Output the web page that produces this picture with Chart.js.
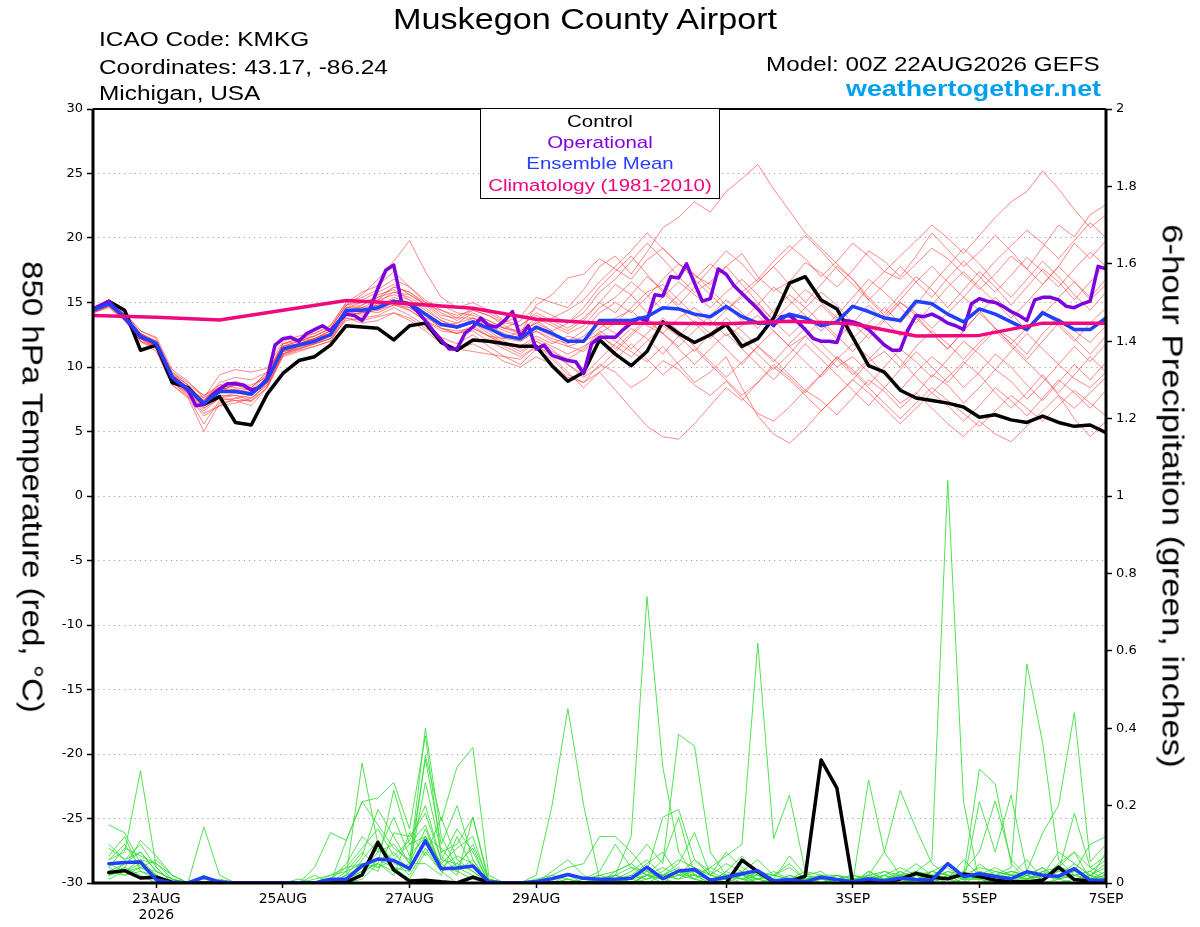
<!DOCTYPE html>
<html>
<head>
<meta charset="utf-8">
<title>Muskegon County Airport - GEFS 850 hPa temperature and precipitation</title>
<script src="https://cdn.jsdelivr.net/npm/chart.js@4.4.1/dist/chart.umd.min.js"></script>
<style>
  html, body { margin: 0; padding: 0; background: #fff; }
  #wrap { position: relative; width: 1200px; height: 927px; overflow: hidden; background: #fff; }
  #chart { position: absolute; left: 0; top: 0; }
  .txt { position: absolute; white-space: nowrap; font-family: "Liberation Sans", Arial, Helvetica, sans-serif; line-height: 1; color: #000; }
  .info { left: 99px; font-size: 20px; transform: scaleX(1.22); transform-origin: 0 50%; }
  .leg { left: 480px; width: 240px; text-align: center; font-size: 17px; transform: scaleX(1.2); transform-origin: 50% 50%; }
  #legbox { position: absolute; left: 480px; top: 108px; width: 240px; height: 91px; box-sizing: border-box; border: 1.5px solid #000; background: #fff; }
</style>
</head>
<body>
<div id="wrap">
  <canvas id="chart" width="1200" height="927"></canvas>

  <div class="txt" style="left:335px; width:500px; top:5px; text-align:center; font-size:29px; transform:scaleX(1.18);">Muskegon County Airport</div>
  <div class="txt info" style="top:29px;">ICAO Code: KMKG</div>
  <div class="txt info" style="top:56.5px;">Coordinates: 43.17, -86.24</div>
  <div class="txt info" style="top:83px;">Michigan, USA</div>
  <div class="txt" style="right:100px; top:54px; font-size:20px; transform:scaleX(1.21); transform-origin:100% 50%;">Model: 00Z 22AUG2026 GEFS</div>
  <div class="txt" style="right:99px; top:77.5px; font-size:22px; font-weight:bold; color:#00a0f0; transform:scaleX(1.22); transform-origin:100% 50%;">weathertogether.net</div>

  <div id="legbox"></div>
  <div class="txt leg" style="top:112.6px; color:#000;">Control</div>
  <div class="txt leg" style="top:133.6px; color:#8000e0;">Operational</div>
  <div class="txt leg" style="top:154.6px; color:#2a40ff;">Ensemble Mean</div>
  <div class="txt leg" style="top:176.6px; color:#f0047f;">Climatology (1981-2010)</div>

  <div class="txt" style="left:32px; top:487px; font-size:29px; transform:translate(-50%,-50%) rotate(90deg) scaleX(1.14);">850 hPa Temperature (red, °C)</div>
  <div class="txt" style="left:1172px; top:496px; font-size:29px; transform:translate(-50%,-50%) rotate(90deg) scaleX(1.2);">6-hour Precipitation (green, inches)</div>
</div>

<script>
// x axis: hours after 00Z 22AUG2026
const dayTickHours = [24, 72, 120, 168, 240, 288, 336, 384];
const dayTickLabels = [['23AUG', '2026'], '25AUG', '27AUG', '29AUG', '1SEP', '3SEP', '5SEP', '7SEP'];

// 850 hPa temperature (C), 6-hourly from 0h
const controlTemp = [
  14.4, 15.1, 14.4, 11.3, 11.7, 8.8, 8.4, 7.1,
  7.7, 5.7, 5.5, 7.9, 9.5, 10.5, 10.8, 11.7,
  13.2, 13.1, 13.0, 12.1, 13.2, 13.4, 11.9, 11.3,
  12.1, 12.0, 11.8, 11.6, 11.6, 10.1, 8.9, 9.6,
  12.1, 11.0, 10.1, 11.2, 13.5, 12.6, 11.9, 12.5,
  13.3, 11.6, 12.2, 13.8, 16.5, 17.0, 15.2, 14.5,
  12.3, 10.1, 9.6, 8.2, 7.6, 7.4, 7.2, 6.9,
  6.1, 6.3, 5.9, 5.7, 6.2, 5.7, 5.4, 5.5,
  4.9
];
const meanTemp = [
  14.4, 14.9, 13.9, 12.4, 11.8, 9.2, 8.3, 7.2,
  8.1, 8.1, 7.9, 9.0, 11.4, 11.7, 12.0, 12.5,
  14.4, 14.4, 14.6, 15.1, 14.9, 14.1, 13.3, 13.1,
  13.5, 13.0, 12.4, 12.2, 13.1, 12.6, 12.0, 12.0,
  13.6, 13.6, 13.6, 13.9, 14.6, 14.5, 14.1, 13.9,
  14.7, 13.9, 13.4, 13.4, 14.1, 13.8, 13.2, 13.5,
  14.7, 14.3, 13.8, 13.6, 15.1, 14.9, 14.1, 13.5,
  14.5, 14.1, 13.5, 12.9, 14.2, 13.6, 12.9, 12.9,
  13.8
];
// operational run, 3-hourly from 0h
const operTemp = [
  14.5, 14.8, 15.1, 14.4, 13.8, 13.1, 12.3, 12.1,
  11.8, 10.5, 9.2, 8.7, 8.2, 7.0, 7.1, 7.8,
  8.3, 8.7, 8.7, 8.6, 8.2, 8.4, 9.1, 11.7,
  12.2, 12.3, 12.0, 12.6, 12.9, 13.2, 12.8, 13.5,
  14.1, 14.0, 13.6, 14.5, 16.1, 17.5, 17.9, 15.0,
  14.9, 14.3, 13.6, 12.8, 12.1, 11.4, 11.4, 12.6,
  13.1, 13.8, 13.2, 13.1, 13.6, 14.3, 12.3, 13.2,
  11.4, 11.7, 10.9, 10.7, 10.5, 10.4, 9.5, 11.8,
  12.3, 12.3, 12.3, 12.9, 13.4, 13.8, 13.6, 15.6,
  15.5, 17.0, 16.9, 18.0, 16.5, 15.1, 15.3, 17.6,
  17.2, 16.3, 15.7, 15.1, 14.5, 13.8, 13.2, 13.9,
  14.0, 13.5, 12.9, 12.2, 12.0, 12.0, 11.9, 13.6,
  13.5, 13.3, 12.9, 12.3, 11.7, 11.3, 11.3, 12.9,
  14.0, 13.9, 14.1, 13.8, 13.4, 13.2, 12.9, 14.9,
  15.3, 15.1, 15.0, 14.7, 14.3, 14.0, 13.6, 15.2,
  15.4, 15.4, 15.2, 14.7, 14.6, 14.9, 15.1, 17.8,
  17.6
];
// climatology, daily at 00Z
const climTemp = [14.0, 13.85, 13.65, 14.4, 15.15, 14.9, 14.55, 13.7, 13.4, 13.4, 13.35, 13.55, 13.35, 12.4, 12.45, 13.4, 13.4];

// ensemble members, 6-hourly from 0h
const tMem01 = [14.6, 15.2, 14.2, 12.8, 12.3, 9.8, 8.9, 7.6, 9.4, 9.8, 9.6, 9.9, 12.0, 12.4, 12.6, 13.2, 15.0,
  15.8, 16.3, 17.4, 16.2, 15.0, 14.2, 13.6, 14.4, 14.0, 13.2, 12.6, 14.8, 15.6, 16.9, 17.2, 18.4,
  17.6, 16.8, 18.3, 19.2, 18.0, 17.1, 16.4, 17.8, 18.8, 17.0, 15.9, 16.6, 18.1, 17.3, 16.2, 17.5,
  19.0, 18.2, 17.0, 18.6, 20.4, 19.1, 17.8, 18.9, 20.2, 19.0, 17.6, 19.3, 21.0, 20.1, 21.8, 22.6];
const tMem02 = [14.2, 14.7, 13.6, 12.0, 11.2, 8.6, 7.7, 5.6, 7.4, 7.6, 7.3, 8.4, 10.9, 11.3, 11.6, 12.0, 13.8,
  13.6, 13.9, 14.2, 13.8, 13.0, 12.3, 11.8, 12.5, 11.6, 10.8, 10.2, 11.4, 10.6, 9.4, 8.8, 10.2,
  9.6, 8.4, 9.2, 10.5, 9.8, 8.6, 7.8, 8.9, 7.6, 6.4, 5.8, 6.9, 8.2, 7.4, 6.3, 7.6,
  9.0, 8.1, 6.8, 7.9, 9.4, 8.6, 7.2, 8.4, 9.8, 8.9, 7.5, 8.8, 10.2, 9.1, 8.4, 9.6];
const tMem03 = [14.5, 15.0, 14.0, 12.6, 12.0, 9.5, 8.6, 7.8, 8.6, 8.9, 8.4, 9.6, 11.8, 12.2, 12.4, 13.0, 14.8,
  15.2, 15.8, 16.4, 15.6, 14.9, 14.0, 13.8, 14.6, 14.2, 13.5, 13.9, 15.4, 15.0, 14.6, 16.0, 17.8,
  18.6, 17.2, 18.9, 20.8, 21.6, 22.8, 22.0, 23.6, 24.6, 25.7, 23.8, 22.1, 20.4, 19.2, 18.0, 16.8,
  15.2, 16.4, 17.8, 16.6, 15.4, 16.9, 18.2, 17.0, 15.8, 17.1, 18.5, 17.4, 16.2, 17.6, 18.9, 17.8];
const tMem04 = [14.3, 14.8, 13.8, 12.2, 11.5, 8.9, 7.9, 6.4, 7.0, 7.2, 7.6, 8.6, 11.0, 11.4, 11.8, 12.2, 14.0,
  14.2, 14.6, 15.4, 15.0, 14.0, 13.0, 12.6, 13.2, 12.4, 11.6, 11.0, 12.0, 11.2, 10.6, 11.4, 12.8,
  12.0, 11.2, 10.4, 11.6, 10.2, 8.8, 9.6, 10.8, 8.4, 6.2, 4.8, 4.1, 5.2, 6.6, 7.8, 9.0,
  10.4, 11.2, 10.0, 11.6, 12.8, 11.8, 10.6, 11.9, 13.0, 12.2, 11.0, 12.6, 13.8, 12.8, 11.9, 13.2];
const tMem05 = [14.4, 14.9, 13.9, 12.5, 12.0, 9.0, 8.0, 7.0, 8.0, 8.3, 8.0, 8.8, 11.2, 11.5, 11.9, 12.4, 14.2,
  14.8, 15.6, 16.0, 15.2, 14.4, 13.6, 13.0, 13.8, 13.4, 12.8, 12.4, 13.6, 12.8, 11.6, 11.2, 12.6,
  13.4, 14.6, 15.8, 16.4, 15.2, 14.0, 13.2, 14.4, 15.6, 14.8, 13.6, 14.8, 16.0, 15.0, 13.8, 14.6,
  16.2, 17.4, 16.8, 18.0, 19.2, 18.4, 17.2, 16.0, 17.2, 18.6, 17.6, 16.4, 17.8, 19.6, 18.4, 19.8];
const tMem06 = [14.5, 15.0, 13.8, 12.0, 11.6, 9.4, 8.6, 7.4, 8.4, 8.0, 7.8, 9.2, 11.6, 11.8, 12.2, 12.6, 14.6,
  14.6, 14.8, 15.2, 14.6, 13.8, 13.2, 13.4, 13.8, 13.0, 12.2, 12.0, 12.8, 12.0, 11.6, 12.0, 13.0,
  13.8, 14.4, 13.2, 12.6, 13.8, 14.6, 13.6, 12.4, 13.2, 14.0, 12.8, 11.6, 12.4, 11.2, 10.0, 10.8,
  9.6, 8.4, 7.2, 8.0, 6.8, 5.6, 4.6, 5.8, 4.8, 4.2, 5.4, 6.6, 7.8, 6.8, 8.0, 9.2];
const tMem07 = [14.6, 15.1, 14.1, 12.8, 12.2, 9.6, 8.6, 7.2, 8.2, 8.6, 8.2, 9.4, 11.8, 12.0, 12.4, 13.0, 14.8,
  15.6, 16.8, 18.2, 19.8, 17.4, 15.4, 14.6, 15.0, 14.4, 13.6, 13.2, 14.0, 13.4, 12.8, 13.6, 15.0,
  16.4, 15.6, 14.2, 15.4, 16.6, 15.6, 14.6, 15.8, 16.8, 15.6, 14.2, 13.4, 14.6, 15.8, 14.8, 13.4,
  12.2, 13.6, 15.0, 14.2, 13.0, 14.2, 15.4, 14.4, 13.0, 11.8, 13.0, 14.4, 13.2, 12.0, 13.4, 14.6];
const tMem08 = [14.2, 14.6, 13.6, 12.2, 11.4, 8.8, 8.0, 6.8, 7.6, 7.8, 7.6, 8.6, 11.0, 11.6, 11.8, 12.2, 13.6,
  13.8, 14.0, 14.6, 14.0, 13.2, 12.0, 11.4, 11.2, 11.0, 10.8, 10.6, 11.6, 11.0, 10.2, 9.4, 10.6,
  11.8, 13.0, 12.2, 11.0, 12.4, 13.6, 12.6, 11.4, 10.2, 11.6, 12.8, 11.6, 10.4, 9.2, 10.6, 11.8,
  10.8, 9.4, 8.2, 9.6, 10.8, 9.8, 8.4, 9.6, 11.0, 10.0, 8.6, 7.4, 8.8, 10.2, 9.0, 10.4];
const tMem09 = [14.4, 14.8, 14.0, 12.4, 11.8, 9.0, 8.2, 7.4, 8.6, 8.4, 8.2, 9.0, 11.4, 11.8, 12.2, 12.8, 14.4,
  14.0, 15.0, 15.8, 15.4, 14.6, 13.6, 13.2, 13.6, 13.4, 13.0, 13.6, 14.6, 14.0, 13.4, 14.2, 15.8,
  16.8, 18.2, 19.6, 18.4, 17.0, 15.8, 16.6, 17.8, 16.4, 15.0, 13.6, 12.4, 13.6, 14.8, 13.6, 12.2,
  13.4, 14.6, 13.4, 14.8, 16.4, 17.8, 19.2, 18.0, 16.6, 15.4, 16.8, 18.2, 17.0, 15.6, 14.4, 15.8];
const tMem10 = [14.3, 14.9, 13.9, 12.3, 11.9, 9.3, 8.4, 7.0, 7.8, 7.8, 7.4, 8.8, 11.2, 11.4, 11.8, 12.4, 14.2,
  14.4, 14.2, 14.8, 14.6, 14.0, 13.4, 13.0, 13.4, 12.6, 11.8, 11.6, 12.4, 11.8, 12.4, 12.0, 12.6,
  11.4, 12.6, 13.8, 12.6, 11.6, 12.8, 14.0, 15.2, 14.2, 13.0, 14.4, 15.6, 14.6, 13.4, 12.2, 13.4,
  14.8, 13.6, 12.4, 13.8, 12.6, 11.4, 12.8, 14.2, 13.0, 11.8, 10.6, 12.0, 13.4, 12.2, 11.0, 12.4];
const tMem11 = [14.5, 15.0, 14.0, 12.4, 11.6, 9.0, 8.2, 7.6, 8.4, 8.2, 7.8, 8.8, 11.4, 11.8, 12.0, 12.4, 14.4,
  14.6, 14.4, 15.0, 14.8, 14.2, 13.4, 13.2, 13.4, 12.8, 12.0, 11.4, 12.2, 11.6, 11.0, 11.6, 12.4,
  11.6, 10.8, 12.0, 13.2, 12.4, 11.2, 12.6, 13.8, 12.8, 11.6, 10.4, 11.8, 13.0, 11.8, 10.6, 9.4,
  10.6, 11.8, 10.6, 9.2, 8.0, 9.2, 10.4, 9.4, 8.0, 6.8, 8.0, 9.4, 7.8, 6.0, 4.6, 5.8];
const tMem12 = [14.6, 15.0, 13.8, 12.6, 12.0, 9.4, 8.4, 7.2, 8.0, 8.2, 8.0, 9.2, 11.6, 12.0, 12.2, 12.6, 14.6,
  14.8, 15.4, 16.2, 15.8, 14.8, 13.8, 13.4, 14.2, 13.6, 13.0, 12.8, 13.8, 13.2, 12.6, 13.2, 14.6,
  15.4, 16.6, 15.6, 14.4, 15.6, 16.8, 18.0, 17.0, 15.8, 16.8, 18.2, 19.4, 18.4, 17.0, 18.2, 19.6,
  18.6, 17.4, 18.6, 19.8, 21.0, 20.0, 18.8, 20.2, 21.6, 22.8, 23.6, 25.2, 23.8, 22.2, 20.8, 21.8];
const tMem13 = [14.4, 14.8, 13.8, 12.2, 11.8, 9.2, 8.0, 6.6, 7.6, 7.4, 7.0, 8.4, 11.0, 11.6, 12.0, 12.6, 14.4,
  14.2, 14.6, 15.0, 14.4, 13.6, 12.8, 12.6, 13.0, 12.4, 12.2, 12.8, 13.4, 12.8, 13.4, 14.6, 16.2,
  17.4, 18.6, 17.2, 15.8, 14.6, 13.4, 12.2, 13.4, 12.2, 11.0, 9.8, 11.0, 12.4, 13.6, 12.4, 11.2,
  12.6, 13.8, 15.0, 14.0, 12.6, 11.4, 12.8, 14.2, 15.4, 14.2, 12.8, 14.0, 15.4, 16.6, 15.2, 16.4];
const tMem14 = [14.3, 14.8, 13.8, 12.4, 11.6, 9.0, 8.2, 6.8, 7.6, 8.0, 7.8, 8.8, 11.0, 11.4, 11.8, 12.2, 14.0,
  14.2, 14.4, 14.8, 14.4, 13.6, 13.0, 12.6, 12.8, 12.0, 11.4, 10.8, 11.6, 10.8, 9.6, 8.4, 9.6,
  8.2, 6.8, 5.4, 4.6, 4.4, 5.6, 7.0, 8.4, 7.4, 8.8, 10.2, 9.2, 8.0, 9.4, 10.8, 9.8,
  8.6, 10.0, 11.4, 10.4, 9.2, 10.6, 12.0, 11.0, 9.8, 11.2, 12.6, 11.4, 10.2, 11.6, 10.4, 11.8];
const tMem15 = [14.5, 15.1, 14.1, 12.6, 11.9, 9.2, 8.4, 7.4, 8.4, 8.6, 8.4, 9.6, 11.6, 11.8, 12.2, 12.8, 14.6,
  15.0, 15.4, 15.8, 15.6, 14.8, 14.4, 14.0, 14.4, 14.0, 13.4, 13.2, 14.2, 13.6, 13.0, 13.8, 15.0,
  14.2, 15.6, 17.0, 16.0, 14.8, 16.2, 17.6, 19.0, 18.0, 16.6, 17.8, 16.4, 15.0, 16.4, 17.8, 16.8,
  15.4, 14.2, 15.6, 17.0, 16.0, 14.6, 16.0, 17.4, 16.2, 14.8, 16.2, 17.6, 16.6, 15.2, 16.6, 18.0];
const tMem16 = [14.2, 14.7, 13.7, 12.0, 11.4, 8.6, 7.6, 5.0, 7.2, 7.4, 7.4, 8.4, 10.8, 11.2, 11.6, 12.0, 13.8,
  13.4, 13.6, 14.2, 13.6, 12.8, 11.8, 11.4, 11.8, 11.2, 10.4, 10.0, 10.8, 10.2, 9.2, 8.8, 9.6,
  10.6, 11.8, 10.6, 9.4, 10.4, 11.4, 10.2, 9.0, 7.8, 8.8, 10.0, 9.0, 7.8, 6.6, 7.8, 9.0,
  8.0, 6.8, 5.6, 6.8, 8.0, 7.0, 5.8, 7.0, 8.4, 7.4, 6.2, 7.6, 9.0, 8.0, 6.8, 8.2];
const tMem17 = [14.4, 15.0, 14.0, 12.6, 11.8, 9.4, 8.4, 7.4, 8.8, 9.2, 9.0, 9.6, 11.6, 12.0, 12.4, 13.0, 14.8,
  15.0, 15.2, 16.2, 15.8, 15.0, 14.8, 14.2, 14.0, 13.6, 13.0, 12.6, 13.4, 13.8, 14.4, 15.2, 16.6,
  17.8, 19.0, 20.4, 19.2, 18.0, 16.8, 15.6, 14.4, 15.4, 16.6, 17.8, 19.0, 20.2, 19.0, 17.6, 16.4,
  15.2, 14.0, 15.2, 16.6, 17.8, 16.6, 15.4, 16.8, 18.2, 19.4, 20.6, 19.6, 18.4, 19.8, 21.2, 20.0];
const tMem18 = [14.3, 14.7, 13.7, 12.2, 11.6, 8.8, 7.8, 6.2, 7.0, 7.6, 7.8, 8.8, 11.2, 11.6, 12.0, 12.4, 14.2,
  14.4, 14.8, 15.2, 14.8, 14.0, 13.0, 12.8, 13.0, 12.4, 11.8, 11.2, 12.0, 11.4, 10.2, 9.2, 10.0,
  11.2, 12.4, 13.6, 12.6, 11.4, 10.2, 11.4, 12.6, 11.4, 10.2, 9.0, 10.4, 11.8, 10.6, 9.4, 8.2,
  7.0, 8.4, 9.8, 11.2, 10.0, 8.8, 10.2, 11.6, 12.8, 11.6, 10.4, 9.2, 8.0, 9.4, 10.8, 9.6];
const tMem19 = [14.5, 14.9, 13.9, 12.4, 12.0, 9.6, 8.8, 7.8, 8.4, 8.0, 8.4, 9.4, 11.8, 12.2, 12.6, 13.2, 15.0,
  15.4, 16.0, 16.8, 16.2, 15.2, 14.4, 13.8, 13.8, 13.2, 12.6, 12.2, 13.0, 12.4, 12.0, 12.8, 14.2,
  15.0, 14.2, 15.4, 16.8, 18.0, 17.2, 16.0, 14.8, 13.6, 14.8, 16.2, 15.2, 14.0, 12.8, 14.0, 15.4,
  16.8, 15.8, 14.6, 13.4, 14.8, 16.2, 17.4, 16.2, 15.0, 13.8, 15.0, 16.4, 17.8, 16.6, 15.4, 16.8];
const tMem20 = [14.4, 14.8, 13.8, 12.3, 11.7, 9.1, 8.2, 7.0, 8.2, 8.6, 8.6, 9.2, 11.4, 11.8, 12.2, 12.8, 14.4,
  14.6, 15.2, 15.6, 15.2, 14.2, 13.4, 13.0, 13.6, 13.0, 12.4, 12.0, 12.8, 12.2, 11.8, 12.4, 13.4,
  12.6, 11.4, 12.6, 13.8, 12.8, 11.6, 10.4, 9.2, 10.4, 11.6, 10.6, 9.4, 8.2, 9.4, 10.8, 9.6,
  8.4, 7.2, 6.0, 7.2, 8.4, 7.4, 6.4, 5.4, 6.6, 7.8, 6.8, 5.8, 7.0, 8.2, 7.2, 6.2];

// 6-hour precipitation (inches), 6-hourly from 6h
const controlPrecip = [
  0.027, 0.032, 0.013, 0.015, 0.002, 0, 0, 0,
  0, 0, 0, 0, 0, 0, 0, 0.002,
  0.021, 0.105, 0.034, 0.005, 0.007, 0.003, 0, 0.015,
  0.002, 0, 0, 0, 0, 0, 0, 0,
  0, 0, 0, 0, 0, 0, 0, 0,
  0.059, 0.029, 0.004, 0.003, 0.018, 0.318, 0.245, 0,
  0.003, 0.003, 0.01, 0.025, 0.015, 0.011, 0.023, 0.017,
  0.007, 0.003, 0.003, 0.007, 0.041, 0.009, 0.005, 0.003
];
const meanPrecip = [
  0.05, 0.053, 0.054, 0.008, 0.001, 0, 0.015, 0.003,
  0, 0, 0, 0, 0, 0, 0.01, 0.01,
  0.045, 0.062, 0.058, 0.037, 0.109, 0.037, 0.039, 0.044,
  0.003, 0, 0, 0.004, 0.011, 0.022, 0.012, 0.01,
  0.01, 0.012, 0.041, 0.011, 0.031, 0.035, 0.007, 0.015,
  0.024, 0.032, 0.005, 0.009, 0.003, 0.015, 0.009, 0.003,
  0.011, 0.005, 0.013, 0.009, 0.007, 0.05, 0.017, 0.024,
  0.017, 0.011, 0.029, 0.02, 0.017, 0.037, 0.007, 0.007
];
const pMem01 = [0.06, 0.08, 0.29, 0.04, 0, 0, 0, 0,
  0, 0, 0, 0, 0, 0, 0.01, 0.05,
  0.12, 0.08, 0.10, 0.05, 0.40, 0.12, 0.04, 0.02,
  0, 0, 0, 0, 0, 0.02, 0, 0.01,
  0.02, 0.12, 0.74, 0.30, 0.08, 0.02, 0, 0,
  0, 0.01, 0, 0.02, 0, 0, 0, 0,
  0, 0.01, 0.03, 0.01, 0, 0.02, 0, 0.05,
  0.02, 0, 0.01, 0.03, 0, 0.01, 0, 0];
const pMem02 = [0.03, 0.05, 0.06, 0.02, 0, 0, 0.145, 0.02,
  0, 0, 0, 0, 0, 0, 0, 0.02,
  0.31, 0.10, 0.04, 0.01, 0.08, 0.03, 0, 0,
  0, 0, 0, 0.02, 0.20, 0.45, 0.20, 0.01,
  0, 0, 0.02, 0.01, 0, 0, 0, 0.03,
  0.01, 0, 0, 0, 0, 0, 0.01, 0,
  0, 0.01, 0.02, 0.03, 0.06, 1.04, 0.21, 0,
  0.01, 0, 0.02, 0.04, 0.01, 0, 0.02, 0.05];
const pMem03 = [0.02, 0.03, 0.05, 0.01, 0, 0, 0, 0,
  0, 0, 0, 0, 0, 0.04, 0.13, 0.11,
  0.21, 0.22, 0.26, 0.14, 0.38, 0.07, 0.03, 0.01,
  0, 0, 0, 0, 0, 0, 0, 0,
  0.01, 0, 0.02, 0, 0.03, 0.02, 0.04, 0.07,
  0.10, 0.62, 0.115, 0.227, 0.03, 0, 0, 0,
  0.02, 0, 0.01, 0, 0.03, 0.05, 0.02, 0.01,
  0.02, 0.04, 0.566, 0.362, 0.06, 0.02, 0.01, 0.03];
const pMem04 = [0.04, 0.02, 0.03, 0.02, 0, 0, 0, 0,
  0, 0, 0, 0, 0, 0.01, 0.02, 0.03,
  0.05, 0.04, 0.08, 0.03, 0.33, 0.16, 0.30, 0.35,
  0.02, 0, 0, 0, 0, 0, 0.01, 0.02,
  0.03, 0.05, 0.10, 0.05, 0.384, 0.354, 0.08, 0.02,
  0, 0, 0, 0.01, 0, 0, 0, 0,
  0.266, 0.08, 0.02, 0, 0.01, 0.03, 0.02, 0.294,
  0.256, 0.05, 0.01, 0.02, 0.01, 0.03, 0.10, 0.12];
const pMem05 = [0.02, 0.04, 0.02, 0, 0, 0, 0, 0,
  0, 0, 0, 0, 0, 0, 0, 0.01,
  0.03, 0.05, 0.24, 0.10, 0.12, 0.05, 0.02, 0.17,
  0, 0, 0, 0, 0.02, 0.04, 0.05, 0.12,
  0.12, 0.08, 0.03, 0.17, 0.19, 0.06, 0.02, 0.01,
  0.02, 0, 0.01, 0, 0, 0, 0, 0.01,
  0.02, 0.08, 0.239, 0.14, 0.05, 0.02, 0, 0.21,
  0.08, 0.227, 0.03, 0.13, 0.20, 0.44, 0.055, 0.10];
const pMem06 = [0.01, 0.03, 0.04, 0.03, 0.01, 0, 0, 0,
  0, 0, 0, 0, 0, 0, 0, 0.11,
  0.21, 0.15, 0.09, 0.06, 0.32, 0.10, 0.20, 0.06,
  0, 0, 0, 0, 0, 0, 0, 0,
  0, 0.02, 0.01, 0.03, 0.06, 0.04, 0.02, 0.05,
  0.03, 0.06, 0.02, 0.04, 0.01, 0.02, 0, 0,
  0.03, 0.01, 0.02, 0.02, 0.01, 0, 0.03, 0.08,
  0.212, 0.06, 0.02, 0.01, 0.03, 0.18, 0.04, 0.02];
const pMem07 = [0.05, 0.03, 0.06, 0.05, 0.02, 0, 0, 0.01,
  0, 0, 0, 0, 0, 0, 0, 0,
  0.06, 0.11, 0.05, 0.04, 0.26, 0.08, 0.10, 0.17,
  0.01, 0, 0, 0, 0, 0, 0.01, 0.03,
  0.10, 0.04, 0.02, 0.06, 0.17, 0.02, 0, 0.03,
  0.07, 0.02, 0.01, 0, 0.01, 0.02, 0.02, 0,
  0.03, 0.01, 0, 0.02, 0.01, 0.01, 0.02, 0.04,
  0.03, 0.02, 0.06, 0.01, 0.05, 0.08, 0.04, 0.07];
const pMem08 = [0.09, 0.06, 0.10, 0.04, 0, 0, 0, 0,
  0, 0, 0, 0, 0.01, 0, 0.02, 0.04,
  0.05, 0.03, 0.13, 0.12, 0.18, 0.06, 0.05, 0.03,
  0, 0, 0, 0, 0, 0.01, 0, 0,
  0.03, 0.05, 0.02, 0.02, 0.05, 0.13, 0.02, 0.01,
  0.02, 0.01, 0, 0.02, 0.01, 0, 0.01, 0.02,
  0.01, 0.03, 0.01, 0, 0.02, 0.01, 0.06, 0.02,
  0.01, 0, 0.03, 0.02, 0.08, 0.05, 0.02, 0];
const pMem09 = [0.02, 0.05, 0.08, 0.03, 0.01, 0, 0, 0,
  0, 0, 0, 0, 0, 0, 0, 0,
  0.02, 0.06, 0.04, 0.03, 0.12, 0.05, 0.09, 0.12,
  0, 0, 0, 0, 0, 0, 0, 0.02,
  0.01, 0.02, 0.05, 0.08, 0.02, 0.01, 0, 0.01,
  0, 0.03, 0.01, 0.07, 0.02, 0.03, 0, 0.01,
  0, 0, 0.01, 0.02, 0.03, 0.02, 0.01, 0.01,
  0, 0.02, 0.01, 0.03, 0.04, 0.08, 0.01, 0.02];
const pMem10 = [0.07, 0.12, 0.03, 0.01, 0, 0, 0.02, 0,
  0, 0, 0, 0, 0, 0, 0, 0.03,
  0.08, 0.04, 0.06, 0.10, 0.15, 0.04, 0.03, 0.06,
  0, 0, 0, 0, 0, 0, 0, 0,
  0, 0.01, 0.03, 0.02, 0.01, 0.04, 0.02, 0.08,
  0.04, 0.02, 0, 0, 0, 0, 0.02, 0.01,
  0.02, 0.03, 0.02, 0.05, 0.02, 0, 0.01, 0.03,
  0.02, 0.01, 0.02, 0.01, 0.02, 0.04, 0.01, 0.02];
const pMem11 = [0.15, 0.13, 0.05, 0.02, 0, 0, 0, 0,
  0, 0, 0, 0, 0, 0.02, 0, 0,
  0.04, 0.09, 0.06, 0.02, 0.09, 0.03, 0.05, 0.09,
  0, 0, 0, 0, 0, 0.01, 0, 0,
  0.02, 0, 0.01, 0.02, 0.03, 0.01, 0.04, 0.02,
  0.01, 0.01, 0.02, 0.01, 0.03, 0.02, 0, 0,
  0.01, 0.02, 0, 0.01, 0.02, 0.01, 0, 0.02,
  0.01, 0.03, 0.02, 0, 0.01, 0.02, 0.03, 0.01];
const pMem12 = [0.03, 0.02, 0.04, 0.02, 0, 0, 0, 0,
  0, 0, 0, 0, 0, 0, 0, 0.02,
  0.04, 0.05, 0.03, 0.05, 0.05, 0.02, 0.12, 0.04,
  0.01, 0, 0, 0, 0, 0, 0, 0,
  0.01, 0.01, 0, 0.02, 0.01, 0.02, 0.01, 0.02,
  0.01, 0.02, 0.01, 0, 0.01, 0.01, 0.01, 0.02,
  0.01, 0, 0.03, 0.01, 0, 0.02, 0.02, 0.01,
  0.03, 0.02, 0.01, 0.02, 0.03, 0.02, 0.01, 0.01];
const pMem13 = [0.10, 0.06, 0.08, 0.03, 0.01, 0, 0, 0,
  0, 0, 0, 0, 0, 0, 0.01, 0.04,
  0.09, 0.14, 0.07, 0.11, 0.20, 0.06, 0.14, 0.08,
  0, 0, 0, 0, 0.03, 0.06, 0.02, 0,
  0.01, 0.03, 0.06, 0.02, 0.04, 0.01, 0, 0.02,
  0.01, 0.03, 0.02, 0.01, 0, 0.01, 0.02, 0.01,
  0, 0.02, 0.04, 0.02, 0.01, 0.03, 0.01, 0.02,
  0.04, 0.02, 0.01, 0.03, 0.02, 0.05, 0.02, 0.04];
const pMem14 = [0.04, 0.09, 0.07, 0.05, 0.01, 0, 0.01, 0,
  0, 0, 0, 0, 0, 0, 0, 0.01,
  0.03, 0.08, 0.17, 0.07, 0.12, 0.09, 0.04, 0.10,
  0.01, 0, 0, 0.01, 0.02, 0.01, 0, 0.01,
  0.02, 0.01, 0.02, 0.04, 0.02, 0.06, 0.03, 0.01,
  0.02, 0.01, 0.03, 0.01, 0.02, 0, 0.01, 0,
  0.02, 0.01, 0.01, 0.03, 0.02, 0.04, 0.01, 0.01,
  0.02, 0.03, 0.02, 0.04, 0.01, 0.02, 0.03, 0.06];
const pMem15 = [0.06, 0.10, 0.04, 0.06, 0.02, 0, 0, 0,
  0, 0, 0, 0, 0, 0, 0, 0.02,
  0.07, 0.19, 0.12, 0.05, 0.14, 0.04, 0.07, 0.05,
  0, 0, 0, 0, 0, 0, 0, 0,
  0.01, 0, 0.02, 0.01, 0.02, 0.02, 0.01, 0,
  0.02, 0.02, 0.01, 0.01, 0.02, 0.01, 0, 0.01,
  0.01, 0.02, 0.01, 0.01, 0.02, 0.01, 0.03, 0.01,
  0, 0.01, 0.01, 0.02, 0.02, 0.01, 0.02, 0.01];
const pMem16 = [0.02, 0.04, 0.11, 0.07, 0.02, 0, 0, 0,
  0, 0, 0, 0, 0, 0, 0, 0,
  0.01, 0.05, 0.02, 0.13, 0.07, 0.17, 0.06, 0.03,
  0, 0, 0, 0, 0.01, 0.02, 0.01, 0.01,
  0.02, 0.04, 0.03, 0.01, 0.02, 0.03, 0.01, 0.02,
  0.03, 0.01, 0.02, 0.05, 0.01, 0.01, 0.02, 0.01,
  0.01, 0.01, 0.02, 0.01, 0.03, 0.02, 0.01, 0.03,
  0.01, 0.02, 0.03, 0.01, 0.04, 0.03, 0.01, 0.08];

const tempMembers = [tMem01, tMem02, tMem03, tMem04, tMem05, tMem06, tMem07, tMem08, tMem09, tMem10,
  tMem11, tMem12, tMem13, tMem14, tMem15, tMem16, tMem17, tMem18, tMem19, tMem20];
const precipMembers = [pMem01, pMem02, pMem03, pMem04, pMem05, pMem06, pMem07, pMem08,
  pMem09, pMem10, pMem11, pMem12, pMem13, pMem14, pMem15, pMem16];

const hours6 = controlTemp.map((_, i) => i * 6);
const hours3 = operTemp.map((_, i) => i * 3);
const precipHours = controlPrecip.map((_, i) => (i + 1) * 6);
const climHours = climTemp.map((_, i) => i * 24);

function series(label, xs, ys, color, width, order, axis) {
    if (xs.length !== ys.length) console.warn('length mismatch', label, xs.length, ys.length);
    return {
        label: label,
        data: ys.map((v, i) => ({ x: xs[i], y: v })),
        borderColor: color,
        borderWidth: width,
        pointRadius: 0,
        fill: false,
        tension: 0,
        order: order,
        yAxisID: axis
    };
}

const datasets = [];
tempMembers.forEach((m, i) => {
    datasets.push(series('member ' + (i + 1), hours6, m, 'rgba(255,60,60,0.72)', 0.85, 20, 'y'));
});
precipMembers.forEach((m, i) => {
    datasets.push(series('precip member ' + (i + 1), precipHours, m, '#33dd33', 0.85, 21, 'y2'));
});
datasets.push(series('Control', hours6, controlTemp, '#000000', 3.5, 5, 'y'));
datasets.push(series('Control precip', precipHours, controlPrecip, '#000000', 3.5, 5, 'y2'));
datasets.push(series('Operational', hours3, operTemp, '#7d00df', 3.5, 4, 'y'));
datasets.push(series('Ensemble Mean', hours6, meanTemp, '#2040ff', 3.5, 3, 'y'));
datasets.push(series('Ensemble Mean precip', precipHours, meanPrecip, '#2040ff', 3.5, 3, 'y2'));
datasets.push(series('Climatology (1981-2010)', climHours, climTemp, '#f0087f', 3.5, 2, 'y'));

const framePlugin = {
    id: 'frame',
    afterDraw(chart) {
        const { ctx, chartArea: a } = chart;
        ctx.save();
        ctx.strokeStyle = '#000';
        ctx.lineWidth = 3;
        ctx.beginPath();
        ctx.moveTo(a.left, a.top);
        ctx.lineTo(a.left, a.bottom);
        ctx.lineTo(a.right, a.bottom);
        ctx.lineTo(a.right, a.top);
        ctx.stroke();
        ctx.lineWidth = 2;
        ctx.beginPath();
        ctx.moveTo(a.left, a.top);
        ctx.lineTo(a.right, a.top);
        ctx.stroke();
        ctx.restore();
    }
};

const tickFont = { family: 'DejaVu Sans', size: 13 };

new Chart(document.getElementById('chart'), {
    type: 'line',
    data: { datasets: datasets },
    plugins: [framePlugin],
    options: {
        responsive: false,
        animation: false,
        events: [],
        layout: { padding: { top: 109, left: 0, right: 0, bottom: 0 } },
        plugins: { legend: { display: false }, tooltip: { enabled: false }, title: { display: false } },
        elements: { line: { borderJoinStyle: 'round', borderCapStyle: 'round' } },
        scales: {
            x: {
                type: 'linear',
                position: 'bottom',
                min: 0,
                max: 384,
                afterBuildTicks: (axis) => { axis.ticks = dayTickHours.map(v => ({ value: v })); },
                afterFit: (axis) => { axis.height = 44; },
                grid: { drawOnChartArea: false, drawTicks: true, tickLength: 5, tickColor: '#000', tickWidth: 1.5 },
                border: { display: false },
                ticks: {
                    autoSkip: false,
                    maxRotation: 0,
                    minRotation: 0,
                    padding: 3,
                    color: '#000',
                    font: { family: 'DejaVu Sans', size: 14, lineHeight: 1.15 },
                    callback: (v) => {
                        const i = dayTickHours.indexOf(v);
                        return i >= 0 ? dayTickLabels[i] : '';
                    }
                }
            },
            y: {
                type: 'linear',
                position: 'left',
                min: -30,
                max: 30,
                afterFit: (axis) => { axis.width = 93; },
                grid: { color: '#a0a0a0', lineWidth: 1, drawTicks: true, tickLength: 6, tickColor: '#000', tickWidth: 1.5, tickBorderDash: [] },
                border: { display: false, dash: [1.2, 4] },
                ticks: { stepSize: 5, padding: 4, color: '#000', font: tickFont, callback: (v) => String(v) }
            },
            y2: {
                type: 'linear',
                position: 'right',
                min: 0,
                max: 2,
                afterFit: (axis) => { axis.width = 94; },
                grid: { drawOnChartArea: false, drawTicks: true, tickLength: 6, tickColor: '#000', tickWidth: 1.5 },
                border: { display: false },
                ticks: { stepSize: 0.2, padding: 4, color: '#000', font: tickFont, callback: (v) => String(Number(v.toFixed(1))) }
            }
        }
    }
});
</script>
</body>
</html>
